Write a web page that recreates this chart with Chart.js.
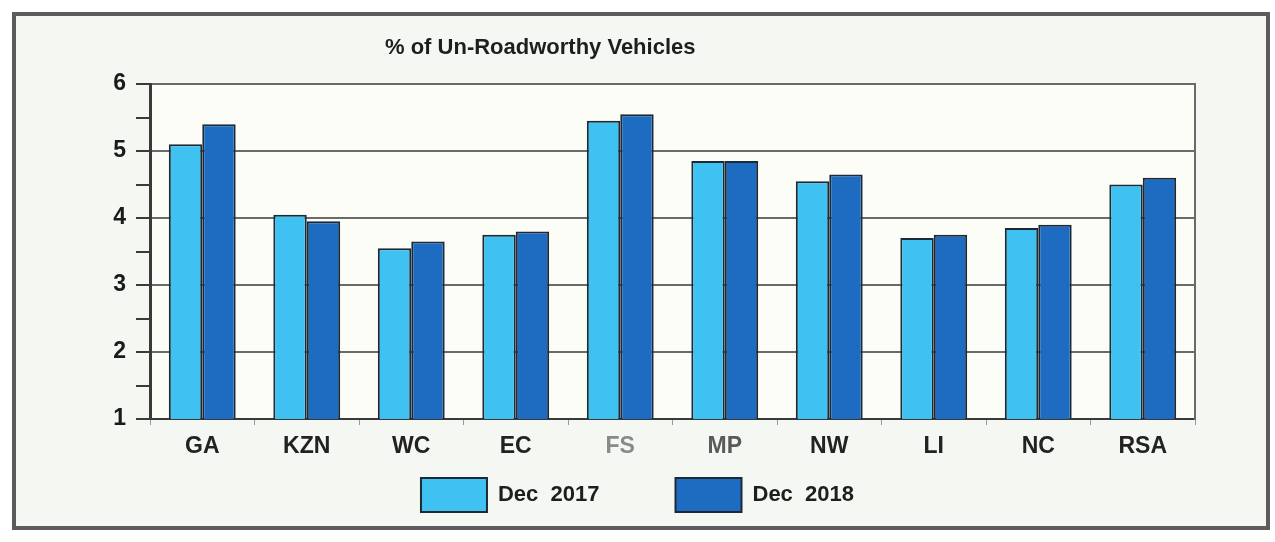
<!DOCTYPE html>
<html>
<head>
  <title>% of Un-Roadworthy Vehicles</title>
  <script src="https://cdn.jsdelivr.net/npm/chart.js"></script>
  <style>
    body {
      margin: 0;
      background: #ffffff;
    }
    .frame {
      position: absolute;
      left: 12px;
      top: 12px;
      width: 1250px;
      height: 510px;
      border: 4px solid #5c5c5c;
      background: #f5f8f2;
    }
    .wrap {
      position: absolute;
      left: 0;
      top: 0;
      width: 1275px;
      height: 542px;
    }
    .title {
      position: absolute;
      left: 385px;
      top: 34px;
      font: bold 22px "Liberation Sans", Arial, sans-serif;
      color: #1e1e1e;
    }
  </style>
</head>
<body>
  <div class="frame"></div>
  <div class="wrap"><canvas id="chart"></canvas></div>
  <div class="title">% of Un-Roadworthy Vehicles</div>

  <script>
    // values
    var categories = ['GA', 'KZN', 'WC', 'EC', 'FS', 'MP', 'NW', 'LI', 'NC', 'RSA'];
    var dec2017 = [5.1, 4.05, 3.55, 3.75, 5.45, 4.85, 4.55, 3.7, 3.85, 4.5];
    var dec2018 = [5.4, 3.95, 3.65, 3.8, 5.55, 4.85, 4.65, 3.75, 3.9, 4.6];
    var yTicks = [1, 2, 3, 4, 5, 6];
    var labelColors = ['#222', '#222', '#222', '#222', '#8a8a8a', '#5a5a5a', '#222', '#222', '#222', '#222'];

    // pale plot background
    var plotBg = {
      id: 'plotBg',
      beforeDraw: function(chart) {
        var a = chart.chartArea, ctx = chart.ctx;
        ctx.save();
        ctx.fillStyle = '#fdfdf7';
        ctx.fillRect(a.left, a.top, a.right - a.left, a.bottom - a.top);
        ctx.restore();
      }
    };

    // legend sits higher than the layout puts it and is centred on the page
    var legendShift = {
      id: 'legendShift',
      afterLayout: function(chart) {
        var lg = chart.legend;
        var h = lg.bottom - lg.top;
        lg.top = 402;
        lg.bottom = lg.top + h;
        lg.left = 0;
        lg.right = chart.width;
        lg.width = chart.width;
      }
    };

    var font = 'Liberation Sans, Arial, sans-serif';

    new Chart(document.getElementById('chart'), {
      type: 'bar',
      data: {
        labels: categories,
        datasets: [{
          label: 'Dec  2017',
          data: dec2017,
          backgroundColor: '#3fc2f2',
          borderColor: '#1d2a35',
          borderWidth: 2
        }, {
          label: 'Dec  2018',
          data: dec2018,
          backgroundColor: '#1d6cc2',
          borderColor: '#1d2a35',
          borderWidth: 2
        }]
      },
      options: {
        responsive: true,
        maintainAspectRatio: false,
        animation: false,
        layout: { padding: { top: 84, left: 0, right: 80, bottom: -43 } },
        datasets: { bar: { categoryPercentage: 0.64, barPercentage: 1 } },
        scales: {
          x: {
            grid: { drawOnChartArea: false, tickLength: 6, tickColor: '#999', offset: true },
            border: { color: '#3a3a3a', width: 2 },
            ticks: {
              padding: 8,
              color: labelColors,
              font: { family: font, size: 23, weight: 'bold' }
            },
            afterFit: function(s) { s.height = 46; }
          },
          y: {
            min: yTicks[0],
            max: yTicks[yTicks.length - 1],
            ticks: {
              stepSize: 0.5,
              padding: 10,
              color: '#1a1a1a',
              font: { family: font, size: 23, weight: 'bold' },
              callback: function(v) { return yTicks.indexOf(v) >= 0 ? v : ''; }
            },
            grid: {
              color: function(c) { return c.tick && yTicks.indexOf(c.tick.value) >= 0 ? '#6a6a6a' : 'rgba(0,0,0,0)'; },
              lineWidth: 2,
              tickColor: '#3a3a3a',
              tickLength: 14
            },
            border: { color: '#3a3a3a', width: 3 },
            afterFit: function(s) { s.width = 150; }
          },
          y2: {
            position: 'right',
            min: yTicks[0],
            max: yTicks[yTicks.length - 1],
            ticks: { display: false },
            grid: { drawOnChartArea: false, drawTicks: false },
            border: { color: '#6a6a6a', width: 2 },
            afterFit: function(s) { s.width = 0; }
          }
        },
        plugins: {
          legend: {
            position: 'bottom',
            labels: {
              boxWidth: 66,
              boxHeight: 34,
              padding: 76,
              color: '#1e1e1e',
              font: { family: font, size: 22, weight: 'bold' }
            }
          },
          tooltip: { enabled: false }
        }
      },
      plugins: [plotBg, legendShift]
    });
  </script>
</body>
</html>
